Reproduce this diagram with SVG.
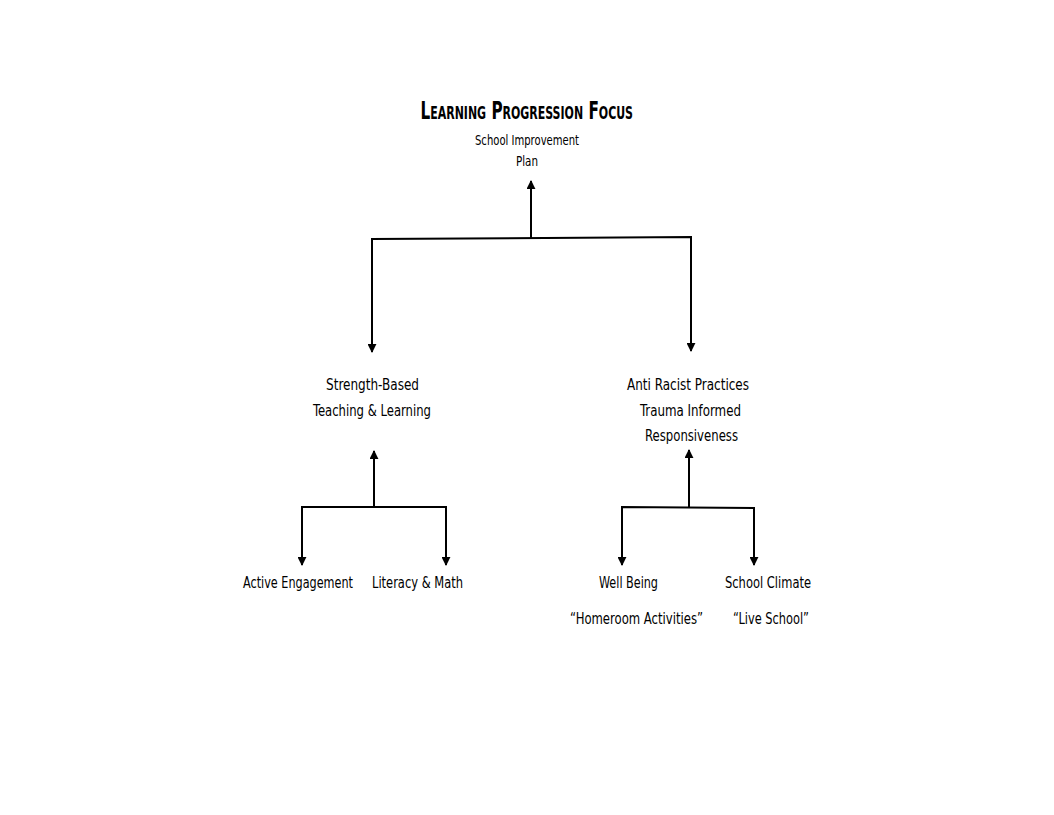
<svg xmlns="http://www.w3.org/2000/svg" width="1054" height="815" viewBox="0 0 1054 815">
<style>
.t{font-family:"Liberation Sans Narrow","DejaVu Sans Condensed","Liberation Sans",sans-serif;fill:#000;text-anchor:start;}
.n{font-size:16px;}
.s{font-size:14px;}
.ttl{font-size:25px;font-weight:bold;font-variant:small-caps;}
.c{fill:none;stroke:#000;stroke-width:2;}
</style>
<defs>
<marker id="ah" viewBox="0 0 10 10" refX="9" refY="5" markerWidth="4.5" markerHeight="4.5" orient="auto" markerUnits="strokeWidth">
<path d="M0,0 L10,5 L0,10 Z" fill="#000"/>
</marker>
</defs>
<rect width="1054" height="815" fill="#fff"/>
<g id="connectors">
<path class="c" d="M531,238 L531,181" marker-end="url(#ah)"/>
<path class="c" d="M372,352 L372,239 L691,237 L691,351" marker-end="url(#ah)"/>
<path class="c" d="M372,239 L372,352" marker-end="url(#ah)"/>
<path class="c" d="M374,507 L374,451" marker-end="url(#ah)"/>
<path class="c" d="M302,565 L302,507 L446,507 L446,565" marker-end="url(#ah)"/>
<path class="c" d="M302,507 L302,565" marker-end="url(#ah)"/>
<path class="c" d="M689,507 L689,450" marker-end="url(#ah)"/>
<path class="c" d="M622,565 L622,507 L754,508 L754,565" marker-end="url(#ah)"/>
<path class="c" d="M622,507 L622,565" marker-end="url(#ah)"/>
</g>
<g id="root">
<text class="t ttl" x="420.5" y="119" textLength="212.5" lengthAdjust="spacingAndGlyphs">Learning Progression Focus</text>
<text class="t s" x="475" y="145" textLength="104" lengthAdjust="spacingAndGlyphs">School Improvement</text>
<text class="t s" x="516" y="166" textLength="22" lengthAdjust="spacingAndGlyphs">Plan</text>
</g>
<g id="strength">
<text class="t n" x="326" y="390" textLength="93" lengthAdjust="spacingAndGlyphs">Strength-Based</text>
<text class="t n" x="313" y="416" textLength="118" lengthAdjust="spacingAndGlyphs">Teaching &amp; Learning</text>
</g>
<g id="antiracist">
<text class="t n" x="627" y="390" textLength="122" lengthAdjust="spacingAndGlyphs">Anti Racist Practices</text>
<text class="t n" x="640" y="416" textLength="101" lengthAdjust="spacingAndGlyphs">Trauma Informed</text>
<text class="t n" x="645" y="441" textLength="93" lengthAdjust="spacingAndGlyphs">Responsiveness</text>
</g>
<g id="active">
<text class="t" font-size="15" x="243" y="588" textLength="110" lengthAdjust="spacingAndGlyphs">Active Engagement</text>
</g>
<g id="literacy">
<text class="t n" x="372" y="588" textLength="91" lengthAdjust="spacingAndGlyphs">Literacy &amp; Math</text>
</g>
<g id="wellbeing">
<text class="t n" x="599" y="588" textLength="59" lengthAdjust="spacingAndGlyphs">Well Being</text>
<text class="t n" x="570" y="624" textLength="133" lengthAdjust="spacingAndGlyphs">“Homeroom Activities”</text>
</g>
<g id="climate">
<text class="t n" x="725" y="588" textLength="86" lengthAdjust="spacingAndGlyphs">School Climate</text>
<text class="t n" x="733" y="624" textLength="76" lengthAdjust="spacingAndGlyphs">“Live School”</text>
</g>
</svg>
